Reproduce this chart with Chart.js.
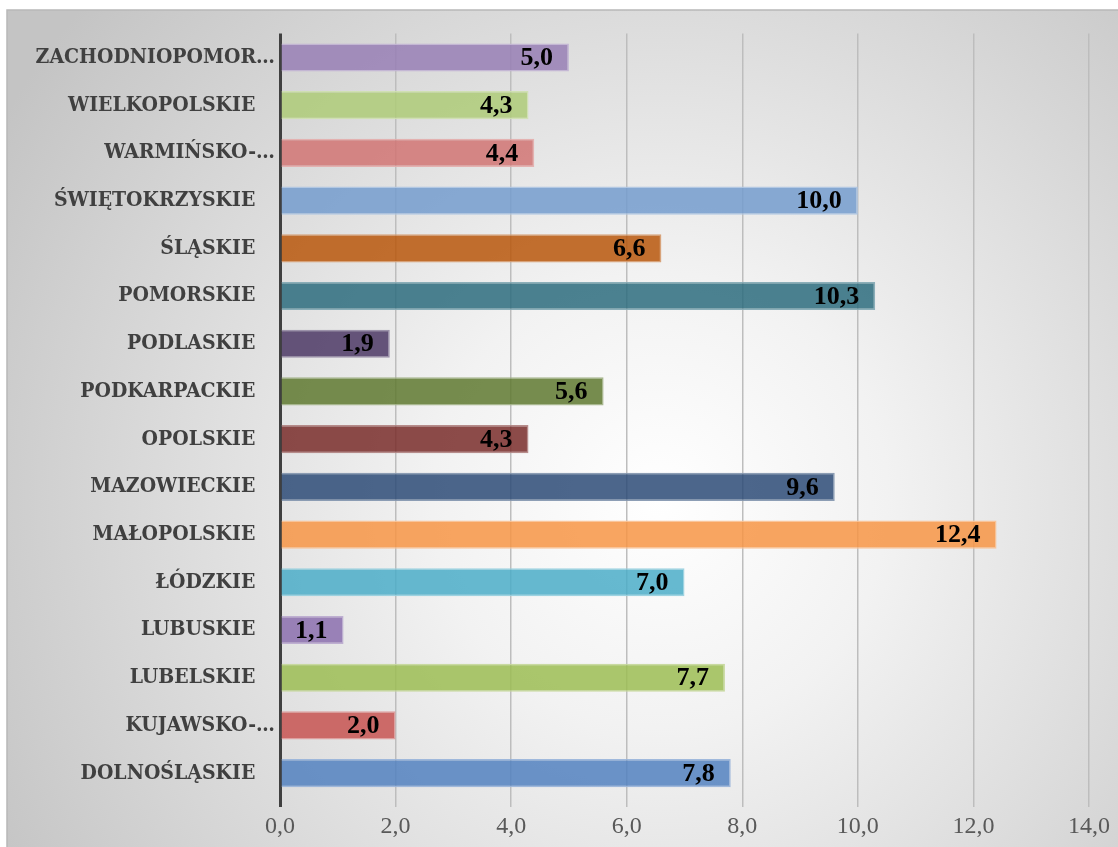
<!DOCTYPE html>
<html>
<head>
<meta charset="utf-8">
<script src="https://cdn.jsdelivr.net/npm/chart.js@4"></script>
<style>
  html, body { margin: 0; padding: 0; background: #fff; }
  #box { width: 1118px; height: 847px; }
</style>
</head>
<body>
<div id="box"><canvas id="regions-chart"></canvas></div>
<script>
// voivodeships, bottom to top
const regions = [
	"DOLNOŚLĄSKIE", "KUJAWSKO-…", "LUBELSKIE", "LUBUSKIE", "ŁÓDZKIE", "MAŁOPOLSKIE",
	"MAZOWIECKIE", "OPOLSKIE", "PODKARPACKIE", "PODLASKIE", "POMORSKIE", "ŚLĄSKIE",
	"ŚWIĘTOKRZYSKIE", "WARMIŃSKO-…", "WIELKOPOLSKIE", "ZACHODNIOPOMOR…"
];
const values = [7.8, 2.0, 7.7, 1.1, 7.0, 12.4, 9.6, 4.3, 5.6, 1.9, 10.3, 6.6, 10.0, 4.4, 4.3, 5.0];
const barColors = [
	"#5281bf", "#c75451", "#9cbd54", "#8b6fae", "#4badc8", "#f79545",
	"#2d4b77", "#792d2a", "#5f7930", "#4c3865", "#2d6c7e", "#b9570c",
	"#749cce", "#d17473", "#aecb78", "#987fb5"
];
const xTicks = [0, 2, 4, 6, 8, 10, 12, 14];

function hexToRgb(hex)
{
	let n = parseInt(hex.slice(1), 16);
	return [(n >> 16) & 255, (n >> 8) & 255, n & 255];
}
function fillOf(hex)
{
	let c = hexToRgb(hex);
	return "rgba(" + c.join(",") + ",0.85)";
}
function edgeOf(hex)
{
	let c = hexToRgb(hex).map(v => Math.round(v + (255 - v) * 0.4));
	return "rgba(" + c.join(",") + ",0.9)";
}
function fmt(v)
{
	return v.toFixed(1).replace(".", ",");
}

// gray radial backdrop with a thin frame
const backdrop = {
	id: "backdrop",
	beforeDraw(chart)
	{
		let ctx = chart.ctx;
		ctx.save();
		ctx.fillStyle = "#ffffff";
		ctx.fillRect(0, 0, chart.width, chart.height);
		let g = ctx.createRadialGradient(660, 500, 0, 660, 500, 760);
		g.addColorStop(0, "#ffffff");
		g.addColorStop(0.3, "#f2f2f2");
		g.addColorStop(1, "#c4c4c4");
		ctx.fillStyle = g;
		ctx.fillRect(7, 10, chart.width - 7, chart.height - 10);
		ctx.strokeStyle = "#b8b8b8";
		ctx.lineWidth = 1.5;
		ctx.strokeRect(7, 10, chart.width, chart.height);
		ctx.restore();
	}
};

// value written inside the end of each bar
const valueLabels = {
	id: "valueLabels",
	afterDatasetsDraw(chart)
	{
		let ctx = chart.ctx;
		let meta = chart.getDatasetMeta(0);
		ctx.save();
		ctx.font = "bold 26px 'Liberation Serif'";
		ctx.fillStyle = "#000000";
		ctx.textAlign = "right";
		ctx.textBaseline = "middle";
		meta.data.forEach(function (bar, i)
		{
			ctx.fillText(fmt(values[i]), bar.x - 16, bar.y + 1);
		});
		ctx.restore();
	}
};

const chart = new Chart(document.getElementById("regions-chart"), {
	type: "bar",
	data: {
		labels: regions,
		datasets: [{
			data: values,
			backgroundColor: barColors.map(fillOf),
			borderColor: barColors.map(edgeOf),
			borderWidth: 1.5,
			borderSkipped: "left",
			categoryPercentage: 1,
			barPercentage: 0.59
		}]
	},
	options: {
		indexAxis: "y",
		responsive: true,
		maintainAspectRatio: false,
		animation: false,
		layout: {padding: {left: 0, right: 29, top: 33.6, bottom: 0}},
		plugins: {legend: {display: false}, tooltip: {enabled: false}},
		scales: {
			x: {
				min: 0, max: 14,
				afterBuildTicks: function (scale)
				{
					scale.ticks = xTicks.map(v => ({value: v}));
				},
				afterFit: function (scale)
				{
					scale.height = 50;
				},
				grid: {
					color: ctx => ctx.index === 0 ? "#404040" : "#bdbdbd",
					lineWidth: ctx => ctx.index === 0 ? 3 : 1.5,
					tickLength: 10
				},
				border: {display: false},
				ticks: {
					padding: 5,
					color: "#595959",
					font: {family: "Liberation Serif", size: 24},
					callback: v => fmt(v)
				}
			},
			y: {
				reverse: true,
				afterFit: function (scale)
				{
					scale.width = 280;
				},
				grid: {display: false, drawTicks: false, tickLength: 0},
				border: {display: false},
				ticks: {
					padding: 5,
					color: "#404040",
					font: {family: "DejaVu Serif Condensed", size: 21, weight: "bold"},
					callback: function (v)
					{
						let s = this.getLabelForValue(v);
						return s.endsWith("…") ? s : s + "\u00a0\u00a0\u00a0";
					}
				}
			}
		}
	},
	plugins: [backdrop, valueLabels]
});
</script>
</body>
</html>
